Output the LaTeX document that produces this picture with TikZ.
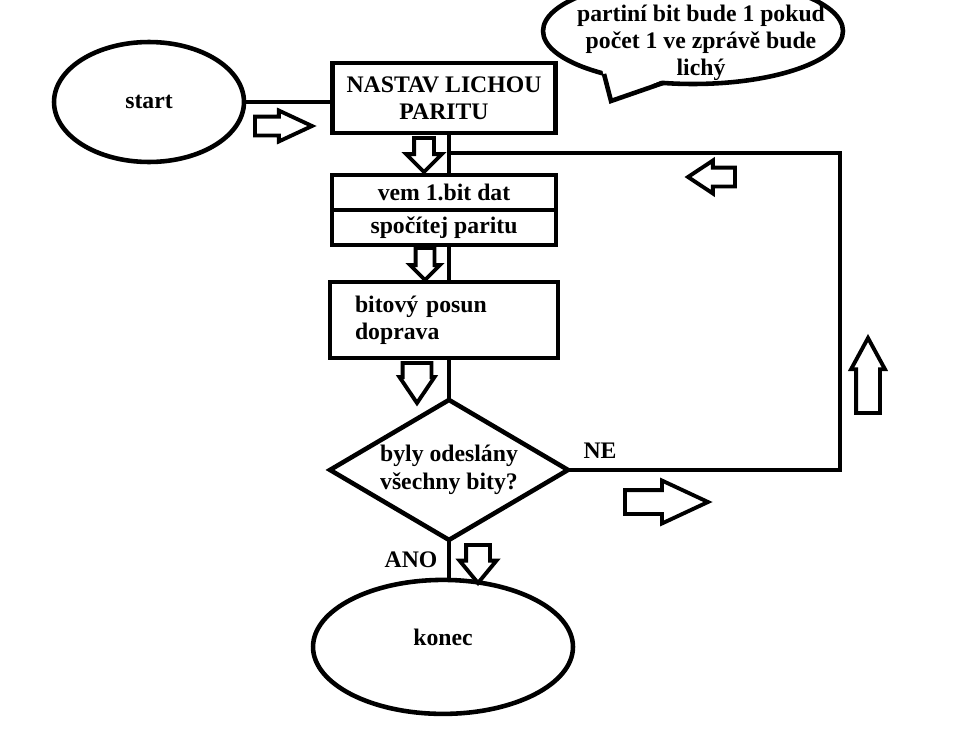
\documentclass[tikz,border=0pt]{standalone}
\usepackage{fontspec}
\setmainfont{Liberation Serif}
\usetikzlibrary{shapes.geometric,shapes.arrows,positioning}
\tikzset{
    flow-box/.style = {draw, rectangle, line width=2.6pt, inner sep=0pt, outer sep=0pt, align=center},
    flow-oval/.style = {draw, ellipse, line width=2.6pt, inner sep=0pt, outer sep=0pt},
    flow-diamond/.style = {draw, diamond, aspect=1.7, line width=2.6pt, inner sep=0pt, outer sep=0pt, align=center},
    flow-line/.style = {line width=2.6pt},
    hollow-arrow/.style = {draw, single arrow, line width=2.2pt, inner xsep=0pt, outer sep=0pt, fill=white, anchor=tip},
}

\begin{document}
\begin{tikzpicture}[x=0.02cm, y=-0.02cm, font=\bfseries\fontsize{13.5}{15.5}\selectfont]
\useasboundingbox (0,0) rectangle (969,730);
\node[flow-oval, minimum width=3.8cm, minimum height=2.4cm] (start) at (149,102) {start};
\node[flow-box, minimum width=4.46cm, minimum height=1.4cm] (nastav) at (444,98) {NASTAV LICHOU\\PARITU};
\node[flow-box, minimum width=4.48cm, minimum height=0.7cm, below=0.84cm of nastav] (vem) {vem 1.bit dat};
\node[flow-box, minimum width=4.48cm, minimum height=0.7cm, below=0pt of vem] (spocitej) {spočítej paritu};
\node[flow-box, minimum width=4.56cm, minimum height=1.52cm, text width=3.56cm, align=left, below=0.74cm of spocitej] (posun) {bitový posun\\doprava};
\node[flow-diamond, minimum width=4.76cm, minimum height=2.8cm, below=0.84cm of posun, xshift=0.1cm] (dotaz) {byly odeslány\\všechny bity?};
\node[flow-oval, minimum width=5.2cm, minimum height=2.68cm, below=0.8cm of dotaz, xshift=-0.12cm] (konec) {\raisebox{0.4cm}{konec}};
\coordinate (roh-nahore) at (840,153);

% spojnice
\draw[flow-line] (start.east) -- (start.east -| nastav.west);
\draw[flow-line] (dotaz.north |- nastav.south) -- (dotaz.north |- vem.north);
\draw[flow-line] (dotaz.north |- spocitej.south) -- (dotaz.north |- posun.north);
\draw[flow-line] (dotaz.north |- posun.south) -- (dotaz.north);
\draw[flow-line] (dotaz.south) -- (dotaz.south |- konec.north);
\draw[flow-line] (dotaz.east) -- (dotaz.east -| roh-nahore) -- (roh-nahore) -- (roh-nahore -| dotaz.north);
\node (ne) at (600,451) {NE};
\node (ano) at (411,560) {ANO};

% dute sipky (umistene spickou)
\node[hollow-arrow, minimum height=1.14cm, inner ysep=0.15cm, single arrow head extend=0.12cm, single arrow tip angle=50] (sipka-start) at (312,126) {};
\node[hollow-arrow, rotate=270, minimum height=0.68cm, inner ysep=0.16cm, single arrow head extend=0.16cm, single arrow tip angle=90] (sipka-nastav) at (424,172) {};
\node[hollow-arrow, rotate=270, minimum height=0.64cm, inner ysep=0.15cm, single arrow head extend=0.11cm, single arrow tip angle=90] (sipka-vem) at (425,280) {};
\node[hollow-arrow, rotate=270, minimum height=0.8cm, inner ysep=0.25cm, single arrow head extend=0.06cm, single arrow tip angle=68] (sipka-posun) at (417,403) {};
\node[hollow-arrow, rotate=270, minimum height=0.76cm, inner ysep=0.2cm, single arrow head extend=0.13cm, single arrow tip angle=79] (sipka-ano) at (478,583) {};
\node[hollow-arrow, rotate=180, minimum height=0.94cm, inner ysep=0.15cm, single arrow head extend=0.14cm, single arrow tip angle=67] (sipka-zpet) at (688,177) {};
\node[hollow-arrow, rotate=90, minimum height=1.5cm, inner ysep=0.2cm, single arrow head extend=0.1cm, single arrow tip angle=57] (sipka-nahoru) at (868,338) {};
\node[hollow-arrow, minimum height=1.66cm, inner ysep=0.2cm, single arrow head extend=0.19cm, single arrow tip angle=50] (sipka-ne) at (708,502) {};

% bublina
\draw[flow-line] (693,31) ellipse [x radius=3cm, y radius=1.06cm];
\fill[white] (602,69) -- (611,101) -- (665,79) -- cycle;
\draw[flow-line, line join=miter] (604,74) -- (611,101) -- (663,83);
\node[align=center] (bublina) at (701,43) {partiní bit bude 1 pokud\\počet 1 ve zprávě bude\\lichý};
\end{tikzpicture}
\end{document}
